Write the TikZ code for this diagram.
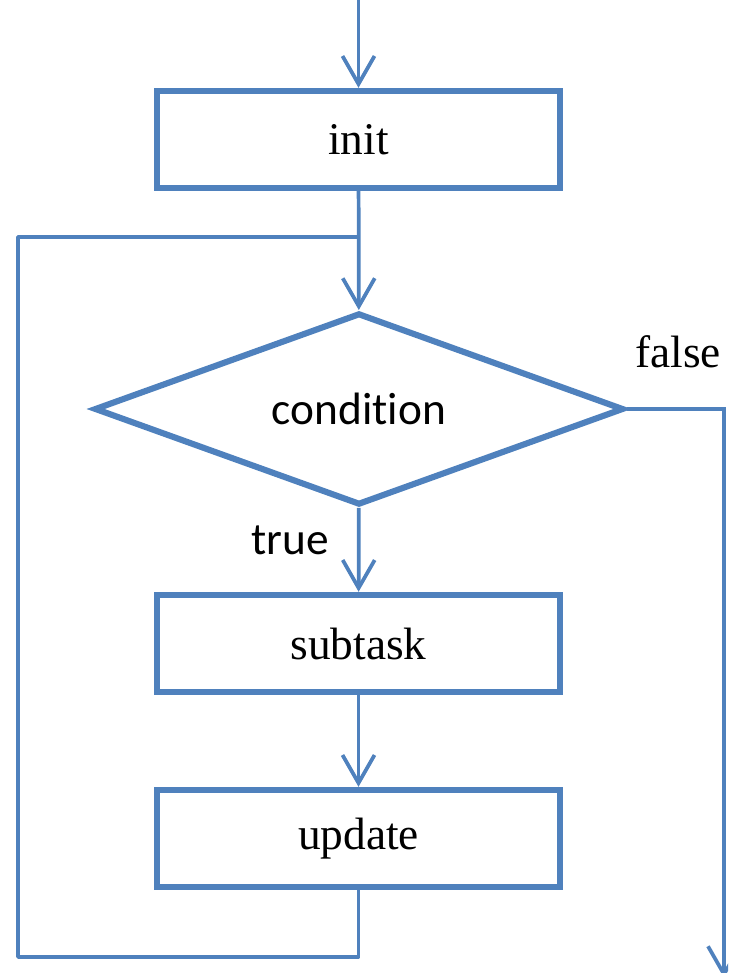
\documentclass[tikz,border=0pt]{standalone}
\usepackage{fontspec}
\setmainfont{Liberation Serif}
\newfontfamily\labelsans[Ligatures={NoCommon,NoRare}]{Carlito}
\usetikzlibrary{arrows.meta,shapes.geometric}
\definecolor{flowblue}{RGB}{79,129,189}

\begin{document}
\begin{tikzpicture}[x=0.75pt,y=-0.75pt,
  txt/.style={font=\fontsize{34}{40}\selectfont, text=black},
  box/.style={draw=flowblue, line width=4.6pt, rectangle, fill=white,
    minimum width=302pt, minimum height=73pt, inner sep=0pt, txt},
  dia/.style={draw=flowblue, line width=4.6pt, diamond, shape aspect=2.77,
    minimum width=397pt, minimum height=144pt, inner sep=0pt, txt},
  flow/.style={draw=flowblue, line width=2.8pt},
  arr/.style={flow, -{Straight Barb[length=21pt, width=24pt]}}
]
\useasboundingbox (0,0) rectangle (728,973);
\clip (0,0) rectangle (728,973);

% process boxes and decision
\node[box] (init) at (358.5,139.5) {init};
\node[dia] (cond) at (359,409) {\labelsans con\kern0pt dit\kern0pt ion};
\node[box] (sub) at (358.5,643.5) {subtask};
\node[box] (upd) at (358.5,838.5) {update};

% branch labels
\node[txt] (ffalse) at (678,352) {false};
\node[txt] (ftrue) at (290,540) {\labelsans true};

% routing points
\coordinate (entry) at (358.5,-6);
\coordinate (join) at (358.5,237);
\coordinate (lt) at (18,237);
\coordinate (lb) at (18,957);
\coordinate (rb) at (358.5,957);
\coordinate (exit) at (724,978);

% main flow
\draw[arr] (entry) -- (init);
\draw[arr] (init) -- (cond);
\draw[arr] (cond) -- (sub);
\draw[arr] (sub) -- (upd);

% loop back to the condition
\draw[flow, line join=round] (upd.south) -- (rb) -- (lb) -- (lt) -- (join);

% exit when false
\draw[arr] (cond.east) -| (exit);
\end{tikzpicture}
\end{document}
